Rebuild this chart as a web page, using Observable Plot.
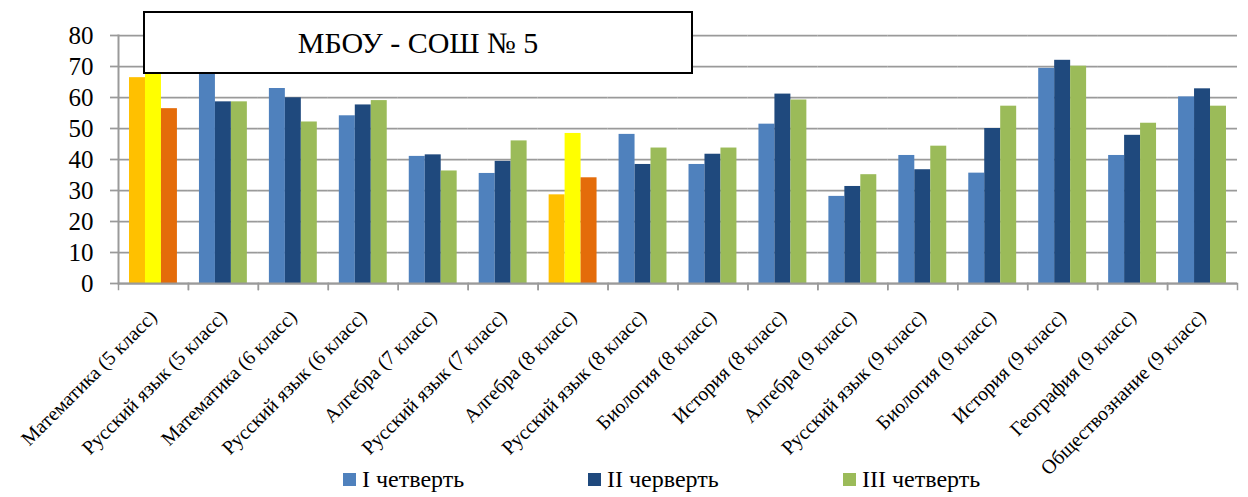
<!DOCTYPE html>
<html>
<head>
<meta charset="utf-8">
<script src="https://cdn.jsdelivr.net/npm/d3@7"></script>
<script src="https://cdn.jsdelivr.net/npm/@observablehq/plot@0.6"></script>
<style>
  html body #wrap, html body #wrap *, html body #wrap svg text, html body #wrap svg g { font-family: 'Liberation Serif', serif !important; }
</style>
</head>
<body style="margin:0;padding:0;background:#fff">
<div id="wrap" style="position:relative;width:1248px;height:497px;overflow:hidden;font-family:'Liberation Serif'"></div>
<script>
const categories = [
  "Математика (5 класс)", "Русский язык (5 класс)", "Математика (6 класс)", "Русский язык (6 класс)",
  "Алгебра (7 класс)", "Русский язык (7 класс)", "Алгебра (8 класс)", "Русский язык (8 класс)",
  "Биология (8 класс)", "История (8 класс)", "Алгебра (9 класс)", "Русский язык (9 класс)",
  "Биология (9 класс)", "История (9 класс)", "География (9 класс)", "Обществознание (9 класс)"
];
const seriesNames = ["I четверть", "II черверть", "III четверть"];
const q1 = [66.4, 68.5, 62.9, 54.1, 41.0, 35.5, 28.6, 48.1, 38.4, 51.4, 28.1, 41.3, 35.6, 69.4, 41.3, 60.2];
const q2 = [68.0, 58.6, 59.9, 57.6, 41.5, 39.4, 48.4, 38.4, 41.7, 61.1, 31.3, 36.7, 50.0, 72.0, 47.8, 62.8];
const q3 = [56.4, 58.6, 52.1, 59.0, 36.3, 46.0, 34.1, 43.7, 43.7, 59.2, 35.1, 44.3, 57.2, 70.1, 51.7, 57.2];
const seriesColors = ["#4F81BD", "#1F497D", "#9BBB59"];
const highlighted = ["Математика (5 класс)", "Алгебра (8 класс)"];
const highlightColors = ["#FFC000", "#FFFF00", "#E46C0A"];
const yTicks = [0, 10, 20, 30, 40, 50, 60, 70, 80];
const titleText = "МБОУ - СОШ № 5";

const seriesValues = [q1, q2, q3];
const rows = categories.flatMap((c, i) => seriesValues.map((arr, j) => ({
  category: c,
  series: seriesNames[j],
  value: arr[i],
  color: highlighted.includes(c) ? highlightColors[j] : seriesColors[j]
})));

const gray = "#9a9a9a";
const serif = "'Liberation Serif', serif";
const W = 1248, H = 497, mT = 35, mB = 214;

const chart = Plot.plot({
  width: W, height: H,
  marginLeft: 118, marginRight: 11, marginTop: mT, marginBottom: mB,
  fx: {domain: categories, padding: 0, round: false, label: null},
  x: {domain: seriesNames, paddingInner: 0, paddingOuter: 0.69, round: false, axis: null},
  y: {domain: [0, 80], label: null},
  color: {type: "identity"},
  style: {background: "white", color: "black", fontFamily: serif},
  marks: [
    Plot.gridY(yTicks, {stroke: gray, strokeOpacity: 1, strokeWidth: 1.75}),
    Plot.barY(rows, {fx: "category", x: "series", y: "value", fill: "color"}),
    Plot.ruleY([0], {stroke: gray, strokeWidth: 2}),
    Plot.frame({anchor: "left", facet: "super", stroke: gray, strokeWidth: 2}),
    Plot.frame({anchor: "left", insetTop: H - mT - mB, insetBottom: -6, stroke: gray, strokeWidth: 1.5}),
    Plot.frame({anchor: "right", insetTop: H - mT - mB, insetBottom: -6, stroke: gray, strokeWidth: 1.5}),
    Plot.axisY(yTicks, {tickSize: 8, tickPadding: 17, fontSize: 25, stroke: gray, strokeWidth: 1.75, fill: "black", label: null}),
    Plot.axisFx({anchor: "bottom", tickSize: 0, tickRotate: -45, tickPadding: 30, fontSize: 20, fill: "black", label: null})
  ]
});
chart.querySelectorAll("text, g").forEach(t => t.setAttribute("font-family", "Liberation Serif"));

const wrap = document.getElementById("wrap");
wrap.appendChild(chart);

const title = document.createElement("div");
Object.assign(title.style, {
  position: "absolute", left: "143px", top: "11px", width: "546px", height: "59px",
  border: "2px solid #000", background: "#fff", display: "flex", alignItems: "center",
  justifyContent: "center", fontSize: "30px", color: "#000", zIndex: "2"
});
title.textContent = titleText;
wrap.appendChild(title);

const legend = document.createElement("div");
Object.assign(legend.style, {
  position: "absolute", left: "343px", top: "466px", display: "flex", alignItems: "center",
  fontSize: "24px", lineHeight: "26px", color: "#000", zIndex: "2"
});
const itemWidths = ["245px", "255px", "auto"];
seriesNames.forEach((name, j) => {
  const item = document.createElement("div");
  Object.assign(item.style, {display: "flex", alignItems: "center", width: itemWidths[j]});
  const sw = document.createElement("span");
  Object.assign(sw.style, {width: "13px", height: "13px", marginRight: "6px", background: seriesColors[j], display: "inline-block"});
  const t = document.createElement("span");
  t.textContent = name;
  item.appendChild(sw);
  item.appendChild(t);
  legend.appendChild(item);
});
wrap.appendChild(legend);
</script>
</body>
</html>
